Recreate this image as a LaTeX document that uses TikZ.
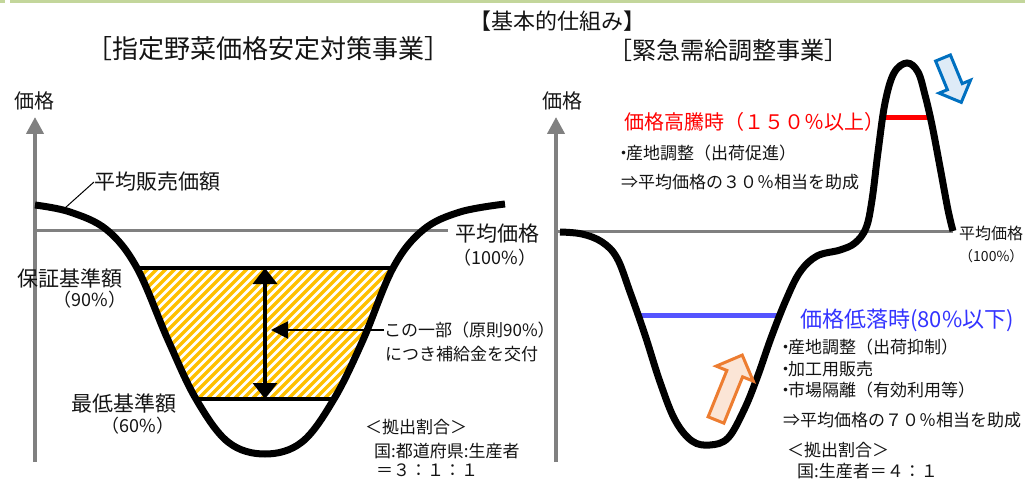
\documentclass[tikz,border=0pt]{standalone}
\usepackage{fontspec}
\setmainfont{Noto Sans CJK JP}
\usetikzlibrary{arrows.meta,positioning}
\definecolor{barGreen}{RGB}{195,214,155}
\definecolor{axisGray}{RGB}{128,128,128}
\definecolor{hatchGold}{RGB}{255,192,0}
\definecolor{surgeRed}{RGB}{255,0,0}
\definecolor{dropBlue}{RGB}{51,51,255}
\definecolor{dropLine}{RGB}{85,85,255}
\definecolor{upOrange}{RGB}{237,125,49}
\definecolor{upOrangeLight}{RGB}{251,229,214}
\definecolor{downBlue}{RGB}{0,112,192}
\definecolor{downBlueLight}{RGB}{222,235,247}
\definecolor{inkBlack}{RGB}{20,20,20}
\tikzset{
  banner text/.style={font=\fontsize{22}{24}\selectfont,inner sep=0pt,text=inkBlack},
  title text/.style={font=\fontsize{25}{28}\selectfont,inner sep=0pt,text=inkBlack},
  label text/.style={font=\fontsize{21}{24}\selectfont,inner sep=0pt,text=inkBlack},
  pct text/.style={font=\fontsize{18}{21}\selectfont,inner sep=0pt,text=inkBlack},
  note text/.style={font=\fontsize{17}{20}\selectfont,inner sep=0pt,anchor=west,text=inkBlack},
  price axis/.style={-{Triangle[length=17pt,width=17pt]},line width=4pt,draw=axisGray},
  avg line/.style={line width=3pt,draw=axisGray},
  price curve/.style={line width=7pt,draw=black},
  level line/.style={line width=3.5pt,draw=black},
  gap arrow/.style={{Triangle[length=16pt,width=24pt]}-{Triangle[length=16pt,width=24pt]},line width=3.5pt},
  note arrow/.style={-{Triangle[length=17pt,width=17pt]},line width=2pt},
  leader/.style={line width=1pt},
  hatch/.style={line width=3.5pt,draw=hatchGold},
  block up/.style={line width=3pt,draw=upOrange,fill=upOrangeLight},
  block down/.style={line width=3pt,draw=downBlue,fill=downBlueLight}
}
\newcommand{\dotitem}{・\kern-6pt}

\begin{document}
\begin{tikzpicture}[x=1pt,y=-1pt]
  \useasboundingbox (0,0) rectangle (1025,481);
  \fill[barGreen] (0,0) rectangle (5,3);
  \fill[barGreen] (10,0) rectangle (1025,3);

  \node[title text,font=\fontsize{26}{28}\selectfont] (titleL) at (268,49) {［指定野菜価格安定対策事業］};
  \node[title text,font=\fontsize{24}{28}\selectfont] (titleR) at (728,50) {［緊急需給調整事業］};
  \node[banner text] (basic) at (557,21) {【基本的仕組み】};

  % left chart
  \node[label text,font=\fontsize{20}{24}\selectfont] (priceL) at (34,101) {価格};
  \coordinate (axisLbot) at (35,462);
  \coordinate (axisLtop) at (35,117);
  \draw[price axis] (axisLbot) -- (axisLtop);
  \draw[avg line] (35,230) -- (448,230);

  \path[save path=\leftpath] plot[smooth,tension=0.6] coordinates {(35,205) (70,212) (107,230) (137,268) (168,340) (196,399) (228,442) (265,454) (302,442) (334,399) (363,340) (393,268) (423,230) (460,212) (505,204)};
  \begin{scope}
    \clip[use path=\leftpath];
    \begin{scope}
      \clip (100,268) rectangle (430,399);
      \foreach \k in {0,...,46} \draw[hatch] (\k*9,399) -- ++(140,-140);
    \end{scope}
    \draw[level line] (100,268) -- (430,268);
    \draw[level line] (100,399) -- (430,399);
  \end{scope}
  \draw[price curve,use path=\leftpath];

  \coordinate (gapTop) at (265,268);
  \coordinate (gapBot) at (265,399);
  \draw[gap arrow] (gapTop) -- (gapBot);

  \node[label text,anchor=west] (salesLbl) at (94,182) {平均販売価額};
  \coordinate (salesPt) at (65,208);
  \draw[leader] (salesLbl.west) -- (salesPt);

  \node[label text] (avgL) at (497,234) {平均価格};
  \node[pct text] (avgLpct) at (495,258) {（100\%）};
  \node[label text] (guarLbl) at (70,278) {保証基準額};
  \node[pct text] (guarPct) at (90,300) {（90\%）};
  \node[label text] (minLbl) at (124,403) {最低基準額};
  \node[pct text] (minPct) at (138,426) {（60\%）};

  \node[note text] (partA) at (384,330) {この一部（原則90\%）};
  \node[note text] (partB) at (385,354) {につき補給金を交付};
  \coordinate (partTip) at (271,330);
  \draw[note arrow] (partA.west) -- (partTip);

  \node[note text] (shareL) at (365,427) {＜拠出割合＞};
  \node[note text] (shareLa) at (374,451) {国:都道府県:生産者};
  \node[note text] (shareLb) at (376,470) {＝３：１：１};

  % right chart
  \node[label text,font=\fontsize{20}{24}\selectfont] (priceR) at (562,101) {価格};
  \coordinate (axisRbot) at (556,462);
  \coordinate (axisRtop) at (556,117);
  \draw[price axis] (axisRbot) -- (axisRtop);
  \draw[avg line] (556,231) -- (953,231);

  \draw[line width=5pt,draw=surgeRed] (883,118) -- (931,118);
  \draw[line width=5pt,draw=dropLine] (636,315) -- (782,315);
  \draw[price curve] plot[smooth,tension=0.6] coordinates {(560,232) (582,234) (602,242) (617,258) (630,292) (645,335) (660,382) (675,420) (692,441) (710,445) (728,438) (744,410) (757,378) (771,338) (786,300) (800,272) (817,256) (840,250) (855,243) (866,228) (872,200) (878,152) (885,103) (894,73) (907,63) (918,72) (925,95) (932,125) (940,167) (948,210) (953,231)};

  \begin{scope}[shift={(716,420)},rotate=68]
    \draw[block up] (0,-8.5) -- (50,-8.5) -- (50,-20) -- (70,0) -- (50,20) -- (50,8.5) -- (0,8.5) -- cycle;
  \end{scope}
  \begin{scope}[shift={(943,58)},rotate=-67.6]
    \draw[block down] (0,-8) -- (31,-8) -- (31,-17) -- (48,0) -- (31,17) -- (31,8) -- (0,8) -- cycle;
  \end{scope}

  \node[label text,anchor=west,text=surgeRed,font=\fontsize{20}{24}\selectfont] (surgeLbl) at (624,122) {価格高騰時（１５０％以上）};
  \node[note text] (surgeA) at (615,153) {\dotitem 産地調整（出荷促進）};
  \node[note text] (surgeB) at (621,182) {⇒平均価格の３０％相当を助成};

  \node[label text,anchor=west,text=dropBlue,font=\fontsize{22}{24}\selectfont] (dropLbl) at (800,320) {価格低落時(80\%以下)};
  \node[note text] (dropA) at (777,347) {\dotitem 産地調整（出荷抑制）};
  \node[note text] (dropB) at (777,369) {\dotitem 加工用販売};
  \node[note text] (dropC) at (777,390) {\dotitem 市場隔離（有効利用等）};
  \node[note text] (dropD) at (783,420) {⇒平均価格の７０％相当を助成};
  \node[note text] (shareR) at (787,450) {＜拠出割合＞};
  \node[note text] (shareRa) at (797,471) {国:生産者＝４：１};

  \node[label text,anchor=west,font=\fontsize{16}{18}\selectfont] (avgR) at (959,233) {平均価格};
  \node[pct text,anchor=west,font=\fontsize{14}{16}\selectfont] (avgRpct) at (959,256) {（100\%）};
\end{tikzpicture}
\end{document}
